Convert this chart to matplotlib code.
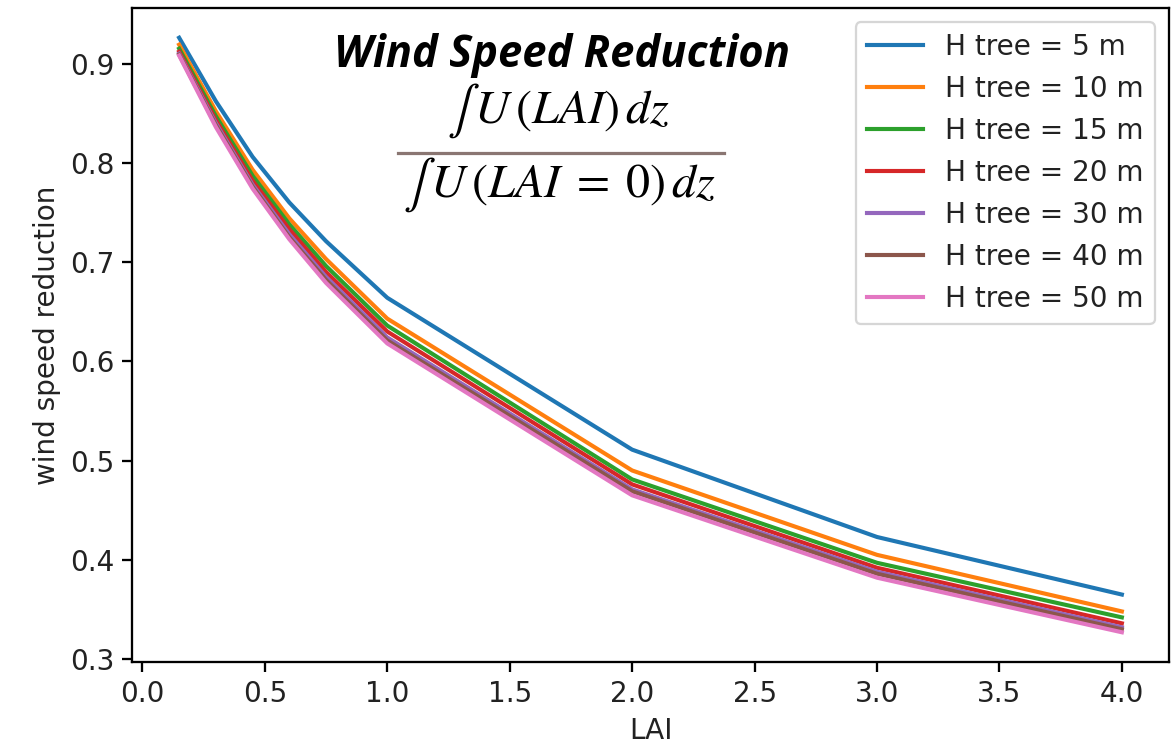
import matplotlib
matplotlib.use("Agg")
import matplotlib.pyplot as plt
from matplotlib.lines import Line2D

lai = [0.15, 0.3, 0.45, 0.6, 0.75, 1.0, 2.0, 3.0, 4.0]
labels = ["H tree = 5 m", "H tree = 10 m", "H tree = 15 m", "H tree = 20 m",
          "H tree = 30 m", "H tree = 40 m", "H tree = 50 m"]
h5 = [0.926, 0.862, 0.806, 0.760, 0.721, 0.664, 0.511, 0.423, 0.365]
h10 = [0.919, 0.852, 0.793, 0.744, 0.703, 0.643, 0.490, 0.405, 0.348]
h15 = [0.915, 0.847, 0.787, 0.738, 0.696, 0.636, 0.481, 0.397, 0.342]
h20 = [0.912, 0.843, 0.782, 0.733, 0.690, 0.630, 0.476, 0.392, 0.336]
h30 = [0.910, 0.840, 0.778, 0.728, 0.685, 0.624, 0.471, 0.388, 0.332]
h40 = [0.909, 0.838, 0.776, 0.725, 0.682, 0.621, 0.469, 0.386, 0.330]
h50 = [0.908, 0.836, 0.774, 0.723, 0.679, 0.618, 0.465, 0.382, 0.327]
series = [h5, h10, h15, h20, h30, h40, h50]

plt.rcParams.update({
    "font.size": 12.2,
    "lines.linewidth": 1.8,
    "xtick.major.size": 4.3,
    "ytick.major.size": 4.3,
    "xtick.major.width": 1.0,
    "ytick.major.width": 1.0,
    "axes.linewidth": 1.0,
    "text.color": "#222222",
    "xtick.labelcolor": "#222222",
    "ytick.labelcolor": "#222222",
    "axes.labelcolor": "#222222",
})

DPI = 165
W, H = 1171, 744
fig = plt.figure(figsize=(W / DPI, H / DPI), dpi=DPI)
ax = fig.add_axes([132 / W, 1 - 662 / H, (1169 - 132) / W, (662 - 8) / H])
for s, lab in zip(series, labels):
    ax.plot(lai, s, label=lab)
ax.set_xlabel("LAI")
ax.set_ylabel("wind speed reduction")
ax.legend(loc="upper right")

def fx(px):
    return px / W

def fy(py):
    return 1 - py / H

fig.text(fx(562), fy(55), "Wind Speed Reduction", ha="center", va="center",
         fontsize=19, fontweight="bold", fontstyle="italic", family="Open Sans",
         color="black")
fig.text(fx(558), fy(111), r"$\int\, U\,(LAI)\,dz$", ha="center", va="center",
         fontsize=21, math_fontfamily="stix", color="black")
fig.text(fx(560), fy(185), r"$\int\, U\,(LAI\;=\;0)\,dz$", ha="center", va="center",
         fontsize=21, math_fontfamily="stix", color="black")
fig.add_artist(Line2D([fx(398), fx(724)], [fy(153), fy(153)], color="#8a7672",
                      lw=1.4, transform=fig.transFigure))

fig.savefig("out.png", dpi=DPI)
